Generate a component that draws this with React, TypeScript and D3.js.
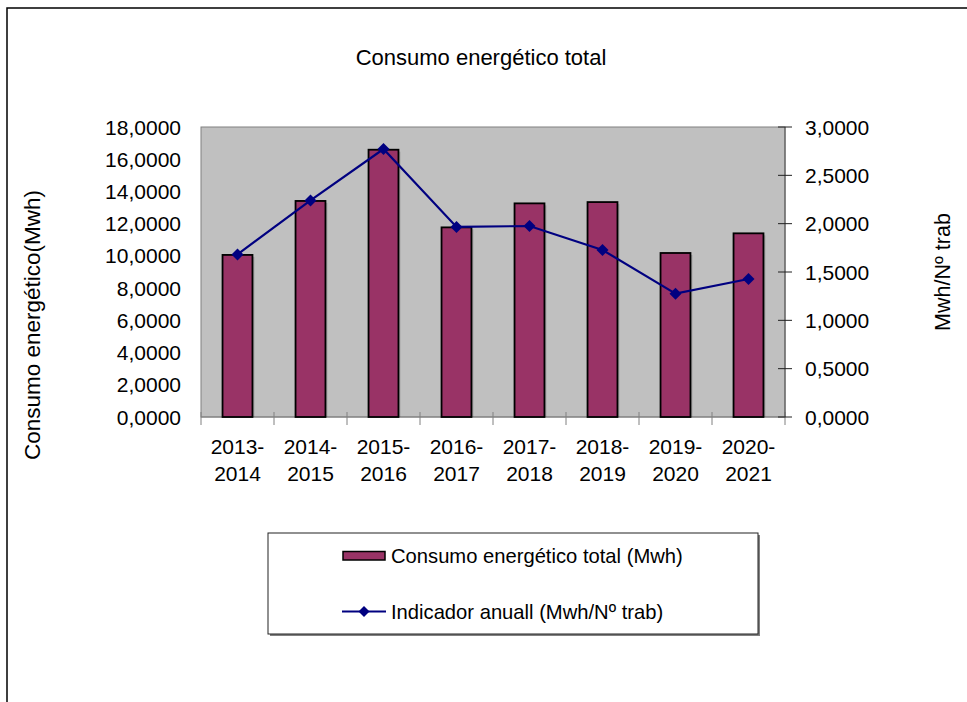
import React from "react";
import * as d3 from "d3";

const categories: string[][] = [
  ["2013-", "2014"],
  ["2014-", "2015"],
  ["2015-", "2016"],
  ["2016-", "2017"],
  ["2017-", "2018"],
  ["2018-", "2019"],
  ["2019-", "2020"],
  ["2020-", "2021"],
];
const consumo: number[] = [10.06, 13.41, 16.59, 11.77, 13.26, 13.34, 10.18, 11.4];
const indicador: number[] = [1.682, 2.24, 2.772, 1.966, 1.976, 1.728, 1.276, 1.428];
const leftTicks: number[] = [0, 2, 4, 6, 8, 10, 12, 14, 16, 18];
const rightTicks: number[] = [0, 0.5, 1, 1.5, 2, 2.5, 3];

const title = "Consumo energético total";
const leftTitle = "Consumo energético(Mwh)";
const rightTitle = "Mwh/Nº trab";
const legendBar = "Consumo energético total (Mwh)";
const legendLine = "Indicador anuall (Mwh/Nº trab)";

const fmt = (v: number) => d3.format(".4f")(v).replace(".", ",");

export default function App() {
  const W = 967, H = 702;
  const L = 201, R = 785, T = 127, B = 417;
  const font = "'Liberation Sans', Arial, sans-serif";
  const idx = categories.map((_, i) => String(i));
  const x = d3.scaleBand<string>().domain(idx).range([L, R]).paddingInner(0).paddingOuter(0);
  const yL = d3.scaleLinear().domain([0, 18]).range([B, T]);
  const yR = d3.scaleLinear().domain([0, 3]).range([B, T]);
  const bw = x.bandwidth() * 0.41;
  const line = d3
    .line<number>()
    .x((_, i) => (x(String(i)) as number) + x.bandwidth() / 2)
    .y((d) => yR(d));
  const diamond = (cx: number, cy: number, r: number) =>
    `M${cx},${cy - r}L${cx + r},${cy}L${cx},${cy + r}L${cx - r},${cy}Z`;

  return (
    <svg
      width={W}
      height={H}
      style={{ position: "absolute", left: 0, top: 0, background: "#fff" }}
      fontFamily={font}
    >
      <rect x={7} y={8} width={W + 10} height={H + 10} fill="#fff" stroke="#000" strokeWidth={1.5} />
      <text x={481} y={57} fontSize={22} textAnchor="middle" dominantBaseline="central" fill="#000">
        {title}
      </text>

      {/* plot area */}
      <rect x={L} y={T} width={R - L} height={B - T} fill="#C0C0C0" stroke="#808080" strokeWidth={1} />

      {/* x ticks */}
      {d3.range(categories.length + 1).map((i) => {
        const xx = L + i * x.bandwidth();
        return <line key={"xt" + i} x1={xx} x2={xx} y1={B - 5} y2={B + 8} stroke="#808080" strokeWidth={1} />;
      })}
      <line x1={L} x2={R} y1={B} y2={B} stroke="#808080" strokeWidth={1} />

      {/* bars */}
      {consumo.map((v, i) => {
        const cx = (x(String(i)) as number) + x.bandwidth() / 2;
        return (
          <g key={"b" + i}>
            <rect x={cx - bw / 2 + 2} y={yL(v) + 2} width={bw} height={B - yL(v) - 2} fill="#000" opacity={0.15} />
            <rect x={cx - bw / 2} y={yL(v)} width={bw} height={B - yL(v)} fill="#993366" stroke="#000" strokeWidth={1.8} />
          </g>
        );
      })}

      {/* line */}
      <path d={line(indicador) || ""} fill="none" stroke="#000080" strokeWidth={2.2} />
      {indicador.map((v, i) => {
        const cx = (x(String(i)) as number) + x.bandwidth() / 2;
        return <path key={"m" + i} d={diamond(cx, yR(v), 6)} fill="#000080" />;
      })}

      {/* right axis */}
      <line x1={R} x2={R} y1={T} y2={B} stroke="#606060" strokeWidth={1.2} />
      {rightTicks.map((t) => (
        <g key={"rt" + t}>
          <line x1={R - 7} x2={R + 7} y1={yR(t)} y2={yR(t)} stroke="#202020" strokeWidth={1} />
          <text x={805} y={yR(t)} fontSize={21} dominantBaseline="central" fill="#000">
            {fmt(t)}
          </text>
        </g>
      ))}

      {/* left axis labels */}
      {leftTicks.map((t) => (
        <text key={"lt" + t} x={181} y={yL(t)} fontSize={21} textAnchor="end" dominantBaseline="central" fill="#000">
          {fmt(t)}
        </text>
      ))}

      {/* x labels */}
      {categories.map((c, i) => {
        const cx = (x(String(i)) as number) + x.bandwidth() / 2;
        return (
          <g key={"xl" + i}>
            <text x={cx} y={446} fontSize={21} textAnchor="middle" dominantBaseline="central" fill="#000">
              {c[0]}
            </text>
            <text x={cx} y={473} fontSize={21} textAnchor="middle" dominantBaseline="central" fill="#000">
              {c[1]}
            </text>
          </g>
        );
      })}

      {/* axis titles */}
      <text
        transform={`translate(32,325) rotate(-90)`}
        fontSize={22.5}
        textAnchor="middle"
        dominantBaseline="central"
        fill="#000"
      >
        {leftTitle}
      </text>
      <text
        transform={`translate(943,272) rotate(-90)`}
        fontSize={21.5}
        textAnchor="middle"
        dominantBaseline="central"
        fill="#000"
      >
        {rightTitle}
      </text>

      {/* legend */}
      <rect x={270} y={535} width={490} height={101} fill="#808080" />
      <rect x={268} y={533} width={490} height={101} fill="#fff" stroke="#222" strokeWidth={1} />
      <rect x={343} y={551.5} width={42} height={8.5} fill="#993366" stroke="#000" strokeWidth={1.5} />
      <text x={391} y={556} fontSize={20.2} dominantBaseline="central" fill="#000">
        {legendBar}
      </text>
      <line x1={342} x2={386} y1={611.5} y2={611.5} stroke="#000080" strokeWidth={2.2} />
      <path d={diamond(364, 611.5, 5.5)} fill="#000080" />
      <text x={391} y={611.5} fontSize={20.2} dominantBaseline="central" fill="#000">
        {legendLine}
      </text>
    </svg>
  );
}
